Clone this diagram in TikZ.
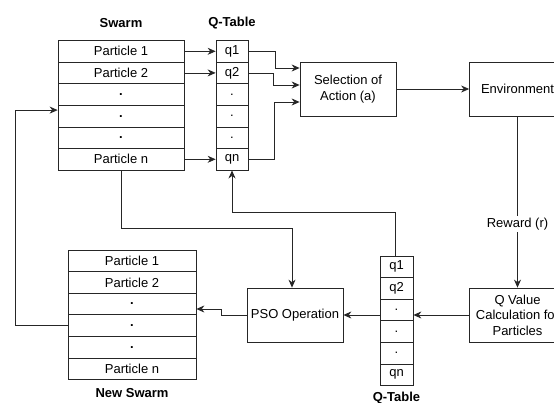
\documentclass[tikz,border=0pt]{standalone}
\usepackage{fontspec}
\setmainfont{Liberation Sans}
\usetikzlibrary{arrows.meta,calc}
\begin{document}
\begin{tikzpicture}[x=1pt,y=-1pt,
  every node/.style={font=\fontsize{13}{15.5}\selectfont},
  cellw/.style={draw=black!85,line width=0.75pt,minimum width=126pt,minimum height=21.6pt,inner sep=0pt},
  cellq/.style={draw=black!85,line width=0.75pt,minimum width=32pt,minimum height=21.6pt,inner sep=0pt},
  procbox/.style={draw=black!85,line width=0.75pt,minimum width=96pt,minimum height=54pt,inner sep=1pt,align=center},
  title/.style={font=\fontsize{13}{15}\selectfont\bfseries},
  arr/.style={draw=black!85,line width=0.75pt,-{Stealth[length=8pt,width=7pt]}},
  ln/.style={draw=black!85,line width=0.75pt}]
\useasboundingbox (0,0) rectangle (554,403);
\clip (0,0) rectangle (554,403);
\fill[white] (0,0) rectangle (554,403);
% Swarm
\node[title] (swt) at (121,23) {Swarm};
\node[cellw] (s1) at (121,51.3) {Particle 1};
\node[cellw] (s2) at (121,72.9) {Particle 2};
\node[cellw] (s3) at (121,94.5) {\textbf{.}};
\node[cellw] (s4) at (121,116.1) {\textbf{.}};
\node[cellw] (s5) at (121,137.7) {\textbf{.}};
\node[cellw] (s6) at (121,159.3) {Particle n};
% Q-table 1
\node[title] (qtt) at (232,23) {Q-Table};
\node[cellq] (q1) at (232,51.3) {q1};
\node[cellq] (q2) at (232,72.9) {q2};
\node[cellq] (q3) at (232,94.5) {.};
\node[cellq] (q4) at (232,116.1) {.};
\node[cellq] (q5) at (232,137.7) {.};
\node[cellq] (qn) at (232,159.3) {qn};
% boxes
\node[procbox] (sel) at (348,89) {Selection of\\Action (a)};
\node[procbox] (env) at (517.5,89) {Environment};
\node[procbox] (qv) at (517.5,315) {Q Value\\Calculation for\\Particles};
\node[procbox] (pso) at (295,315) {PSO Operation};
% Q-table 2
\node[cellq,minimum width=33pt] (t1) at (396.5,266.8) {q1};
\node[cellq,minimum width=33pt] (t2) at (396.5,288.4) {q2};
\node[cellq,minimum width=33pt] (t3) at (396.5,310) {.};
\node[cellq,minimum width=33pt] (t4) at (396.5,331.6) {.};
\node[cellq,minimum width=33pt] (t5) at (396.5,353.2) {.};
\node[cellq,minimum width=33pt] (tn) at (396.5,374.8) {qn};
\node[title] (qt2t) at (396.5,398) {Q-Table};
% New swarm
\node[cellw,minimum width=128pt] (n1) at (132,260.8) {Particle 1};
\node[cellw,minimum width=128pt] (n2) at (132,282.4) {Particle 2};
\node[cellw,minimum width=128pt] (n3) at (132,304) {\textbf{.}};
\node[cellw,minimum width=128pt] (n4) at (132,325.6) {\textbf{.}};
\node[cellw,minimum width=128pt] (n5) at (132,347.2) {\textbf{.}};
\node[cellw,minimum width=128pt] (n6) at (132,368.8) {Particle n};
\node[title] (nst) at (132,393) {New Swarm};
% connectors
\draw[arr] (s1.east) -- (q1.west);
\draw[arr] (s2.east) -- (q2.west);
\draw[arr] (s6.east) -- (qn.west);
\draw[arr] (q1.east) -- ++(27,0) |- ([yshift=21pt]sel.west);
\draw[arr] (q2.east) -- ++(25,0) |- ([yshift=4pt]sel.west);
\draw[arr] (qn.east) -- ++(26,0) |- ([yshift=-13pt]sel.west);
\draw[arr] (sel.east) -- (env.west);
\draw[arr] (env.south) -- node[pos=0.63,fill=white,inner sep=2pt] (rw) {Reward (r)} (qv.north);
\draw[arr] (qv.west) -- (qv.west -| t3.east);
\draw[arr] (pso.east -| t3.west) -- (pso.east);
\draw[arr] ([xshift=-1pt]t1.north) -- ++(0,-43.5) -| (qn.south);
\draw[arr] (s6.south) -- ++(0,58.2) -| ([xshift=-3pt]pso.north);
\draw[arr] (pso.west) -- ++(-25,0) |- ([yshift=-5pt]n3.east);
\draw[arr] (n4.west) -- ++(-52,0) |- ([yshift=6pt]s4.west);
\end{tikzpicture}
\end{document}
